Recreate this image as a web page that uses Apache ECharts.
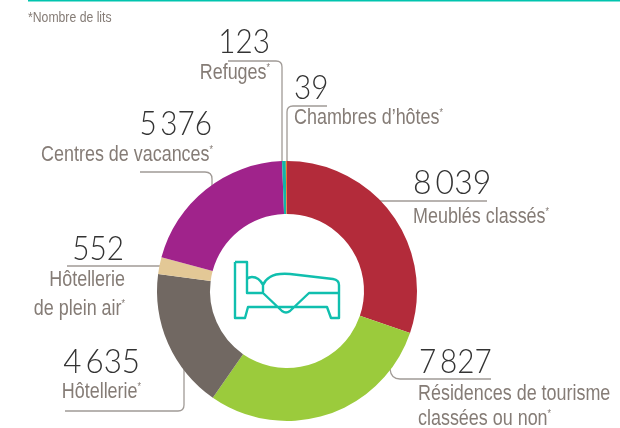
<!DOCTYPE html>
<html>
<head>
<meta charset="utf-8">
<script src="https://cdn.jsdelivr.net/npm/echarts@6/dist/echarts.min.js"></script>
<style>
  html, body { margin: 0; padding: 0; background: #fff; }
  #chart { width: 620px; height: 428px; }
</style>
</head>
<body>
<div id="chart"></div>
<script>
// nombre de lits, in clockwise order from the top
const categories = ['Meublés classés', 'Résidences de tourisme classées ou non', 'Hôtellerie', 'Hôtellerie de plein air', 'Centres de vacances', 'Refuges', "Chambres d’hôtes"]
const values = [8039, 7827, 4635, 552, 5376, 123, 39]
const colors = ['#b32b3a', '#9bcb3c', '#716862', '#e3c896', '#a0238b', '#12b5a6', '#e8792c']
const footnote = '*Nombre de lits'

const numberColor = '#333333'
const labelColor = '#857c76'
const leaderColor = '#a09a96'
const numberFont = '300 33px Lato, "Open Sans", sans-serif'
const labelFont = '22px "Liberation Sans", sans-serif'
const narrow = 0.815 // no condensed face installed

function fmt (v) {
  const s = String(v)
  return s.length > 3 ? s.slice(0, -3) + '\u2009' + s.slice(-3) : s
}

// y is the baseline of the digits
function numberText (x, y, value, align, sx) {
  return {
    type: 'text', z: 10, x: x, y: y - 12, scaleX: sx || 0.9,
    style: { text: fmt(value), font: numberFont, fill: numberColor, align: align, verticalAlign: 'middle' }
  }
}

// the asterisk sits up high and smaller, hence the rich text
function labelText (x, y, text, align, star) {
  return {
    type: 'text', z: 10, x: x, y: y, scaleX: narrow,
    style: {
      text: star ? text + '{s|*}' : text,
      font: labelFont, fill: labelColor, align: align, verticalAlign: 'middle',
      rich: { s: { font: '11px "Liberation Sans", sans-serif', fill: labelColor, verticalAlign: 'top', padding: [0, 0, 8, 0] } }
    }
  }
}

// graphic has no plain path type, so each svg path gets registered as a shape
let shapeCount = 0
function pathShape (d, stroke, width) {
  let name = 'pathShape' + shapeCount++
  echarts.graphic.registerShape(name, echarts.graphic.extendPath(d))
  return {
    type: name, z: 1,
    style: { fill: null, stroke: stroke, lineWidth: width, lineJoin: 'round' }
  }
}

function leader (d) {
  return pathShape(d, leaderColor, 1.3)
}

let myChart = echarts.init(document.getElementById('chart'))

let option = {
  animation: false,
  backgroundColor: '#fff',
  series: [{
    type: 'pie',
    center: [287, 291],
    radius: [77, 130],
    startAngle: 90,
    silent: true,
    label: { show: false },
    labelLine: { show: false },
    data: categories.map(function (name, i) {
      return { name: name, value: values[i], itemStyle: { color: colors[i] } }
    })
  }],
  graphic: [
    // top rule
    { type: 'rect', shape: { x: 28, y: 0, width: 592, height: 1.6 }, style: { fill: '#00c4ae' } },
    { type: 'text', x: 28, y: 18, scaleX: narrow, style: { text: footnote, font: '15px "Liberation Sans", sans-serif', fill: labelColor, verticalAlign: 'middle' } },

    // leader lines
    leader('M228 61 L276 61 Q282 61 282 67 L282 162'),
    leader('M327 106 L293 106 Q287 106 287 112 L287 162'),
    leader('M140 172 L205 172 Q212 172 212 179 L212 186'),
    leader('M380 201 L487 201'),
    leader('M390 369 Q391 379 400 379 L491 379'),
    leader('M67 266 L161 266'),
    leader('M65 411 L178 411 Q184 411 184 405 L184 366'),

    // values and names
    numberText(270, 54, values[5], 'right'),
    labelText(270, 73, 'Refuges', 'right', true),
    numberText(294, 100, values[6], 'left'),
    labelText(294, 118, 'Chambres d’hôtes', 'left', true),
    numberText(212, 136, values[4], 'right'),
    labelText(213, 155, 'Centres de vacances', 'right', true),
    numberText(413, 195, values[0], 'left', 0.97),
    labelText(413, 217, 'Meublés classés', 'left', true),
    numberText(419, 374, values[1], 'left'),
    labelText(418, 394, 'Résidences de tourisme', 'left', false),
    labelText(418, 419, 'classées ou non', 'left', true),
    numberText(124, 261, values[3], 'right'),
    labelText(125, 280, 'Hôtellerie', 'right', false),
    labelText(125, 309, 'de plein air', 'right', true),
    numberText(140, 374, values[2], 'right', 0.95),
    labelText(141, 392, 'Hôtellerie', 'right', true),

    // bed icon
    pathShape('M235 262 L247 262 L247 293 L263 293 L282 311 Q286 314 290 311 L309 293 L339 293 M235 262 L235 318 L245 318 L248 307 L327 307 L331 318 L339 318 L339 285 Q339 280 333 279 L290 274 Q276 273 270 277 Q265 280 263 285 Q259 277 252 277 Q249 277 247 279 M263 293 L263 285', '#10bfae', 2.4)
  ]
}
myChart.setOption(option, true)
</script>
</body>
</html>
